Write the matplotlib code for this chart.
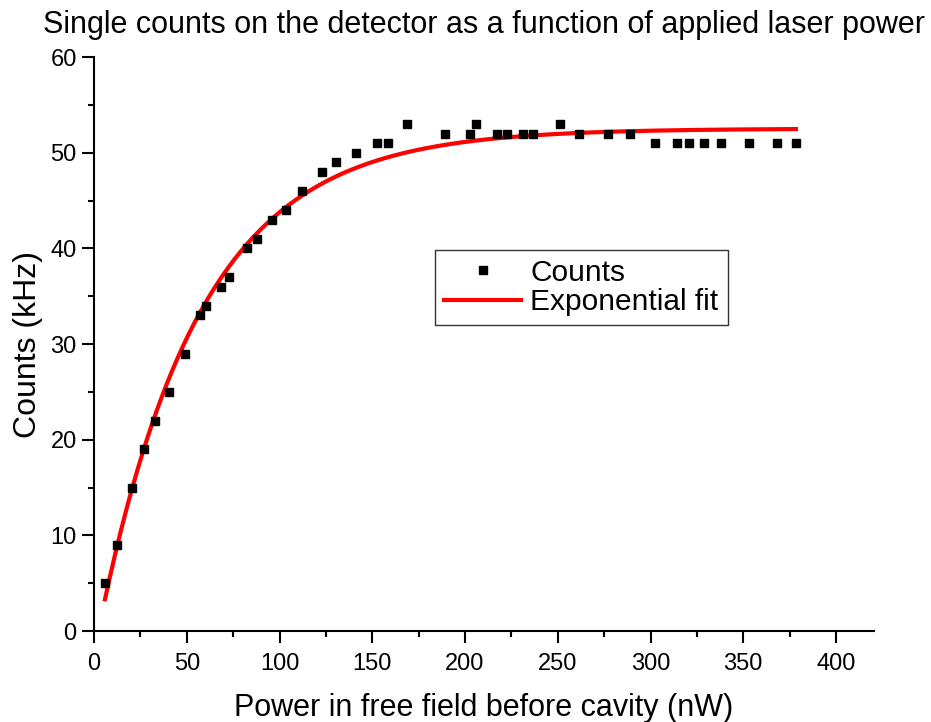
import numpy as np
import matplotlib
matplotlib.use("Agg")
import matplotlib.pyplot as plt
from matplotlib.ticker import MultipleLocator

plt.rcParams['font.family'] = ['Liberation Sans', 'DejaVu Sans']

# measured power (nW) and counts (kHz)
power = [5.9, 12.4, 20.5, 27.0, 32.9, 40.4, 49.1, 57.1, 60.2, 68.3, 72.9,
         82.3, 87.9, 96.1, 103.3, 112.0, 122.9, 130.5, 141.2, 152.7, 158.7,
         168.7, 189.1, 202.5, 205.9, 217.3, 222.6, 231.3, 236.5, 251.2,
         261.4, 276.9, 289.0, 302.4, 314.1, 320.5, 328.7, 337.8, 353.1,
         368.2, 378.4]
counts = [5, 9, 15, 19, 22, 25, 29, 33, 34, 36, 37,
          40, 41, 43, 44, 46, 48, 49, 50, 51, 51,
          53, 52, 52, 53, 52, 52, 52, 52, 53,
          52, 52, 52, 51, 51, 51, 51, 51, 51,
          51, 51]

x = np.array(power)
y = np.array(counts)

# exponential fit y = y0 + A*exp(-x/t), scan t and solve the linear part
best = None
for t in np.arange(20, 120, 0.1):
    M = np.column_stack([np.ones_like(x), np.exp(-x / t)])
    coef, res, _, _ = np.linalg.lstsq(M, y, rcond=None)
    err = np.sum((M @ coef - y) ** 2)
    if best is None or err < best[0]:
        best = (err, t, coef)
_, t_fit, (y0, A) = best
xf = np.linspace(x.min(), x.max(), 400)
yf = y0 + A * np.exp(-xf / t_fit)

fig = plt.figure(figsize=(9.31, 7.22), dpi=100)
ax = fig.add_axes([0.101, 0.126, 0.8378, 0.795])

ax.plot(x, y, 's', color='black', markersize=6, label='Counts', zorder=3)
ax.plot(xf, yf, '-', color='red', linewidth=3, label='Exponential fit', zorder=2)

ax.set_xlim(0, 420.5)
ax.set_ylim(0, 60)
ax.xaxis.set_major_locator(MultipleLocator(50))
ax.xaxis.set_minor_locator(MultipleLocator(25))
ax.yaxis.set_major_locator(MultipleLocator(10))
ax.yaxis.set_minor_locator(MultipleLocator(5))

for s in ['top', 'right']:
    ax.spines[s].set_visible(False)
for s in ['left', 'bottom']:
    ax.spines[s].set_linewidth(1.5)

ax.tick_params(which='major', direction='out', length=8.5, width=1.5, labelsize=17)
ax.tick_params(which='minor', direction='out', length=4.3, width=1.5)
ax.tick_params(axis='x', which='major', pad=7)
ax.tick_params(axis='y', which='major', pad=4)

ax.set_xlabel('Power in free field before cavity (nW)', fontsize=22, labelpad=13)
ax.set_ylabel('Counts (kHz)', fontsize=23, labelpad=5)
ax.set_title('Single counts on the detector as a function of applied laser power',
             fontsize=22, pad=17)

leg = ax.legend(loc='upper left', bbox_to_anchor=(0.437, 0.664), borderaxespad=0,
                fancybox=False, edgecolor='black', fontsize=21.5, handlelength=2.6,
                borderpad=0.3, labelspacing=0.05, handletextpad=0.3,
                numpoints=1)
leg.get_frame().set_linewidth(1.0)

fig.savefig('out.png', dpi=100)
